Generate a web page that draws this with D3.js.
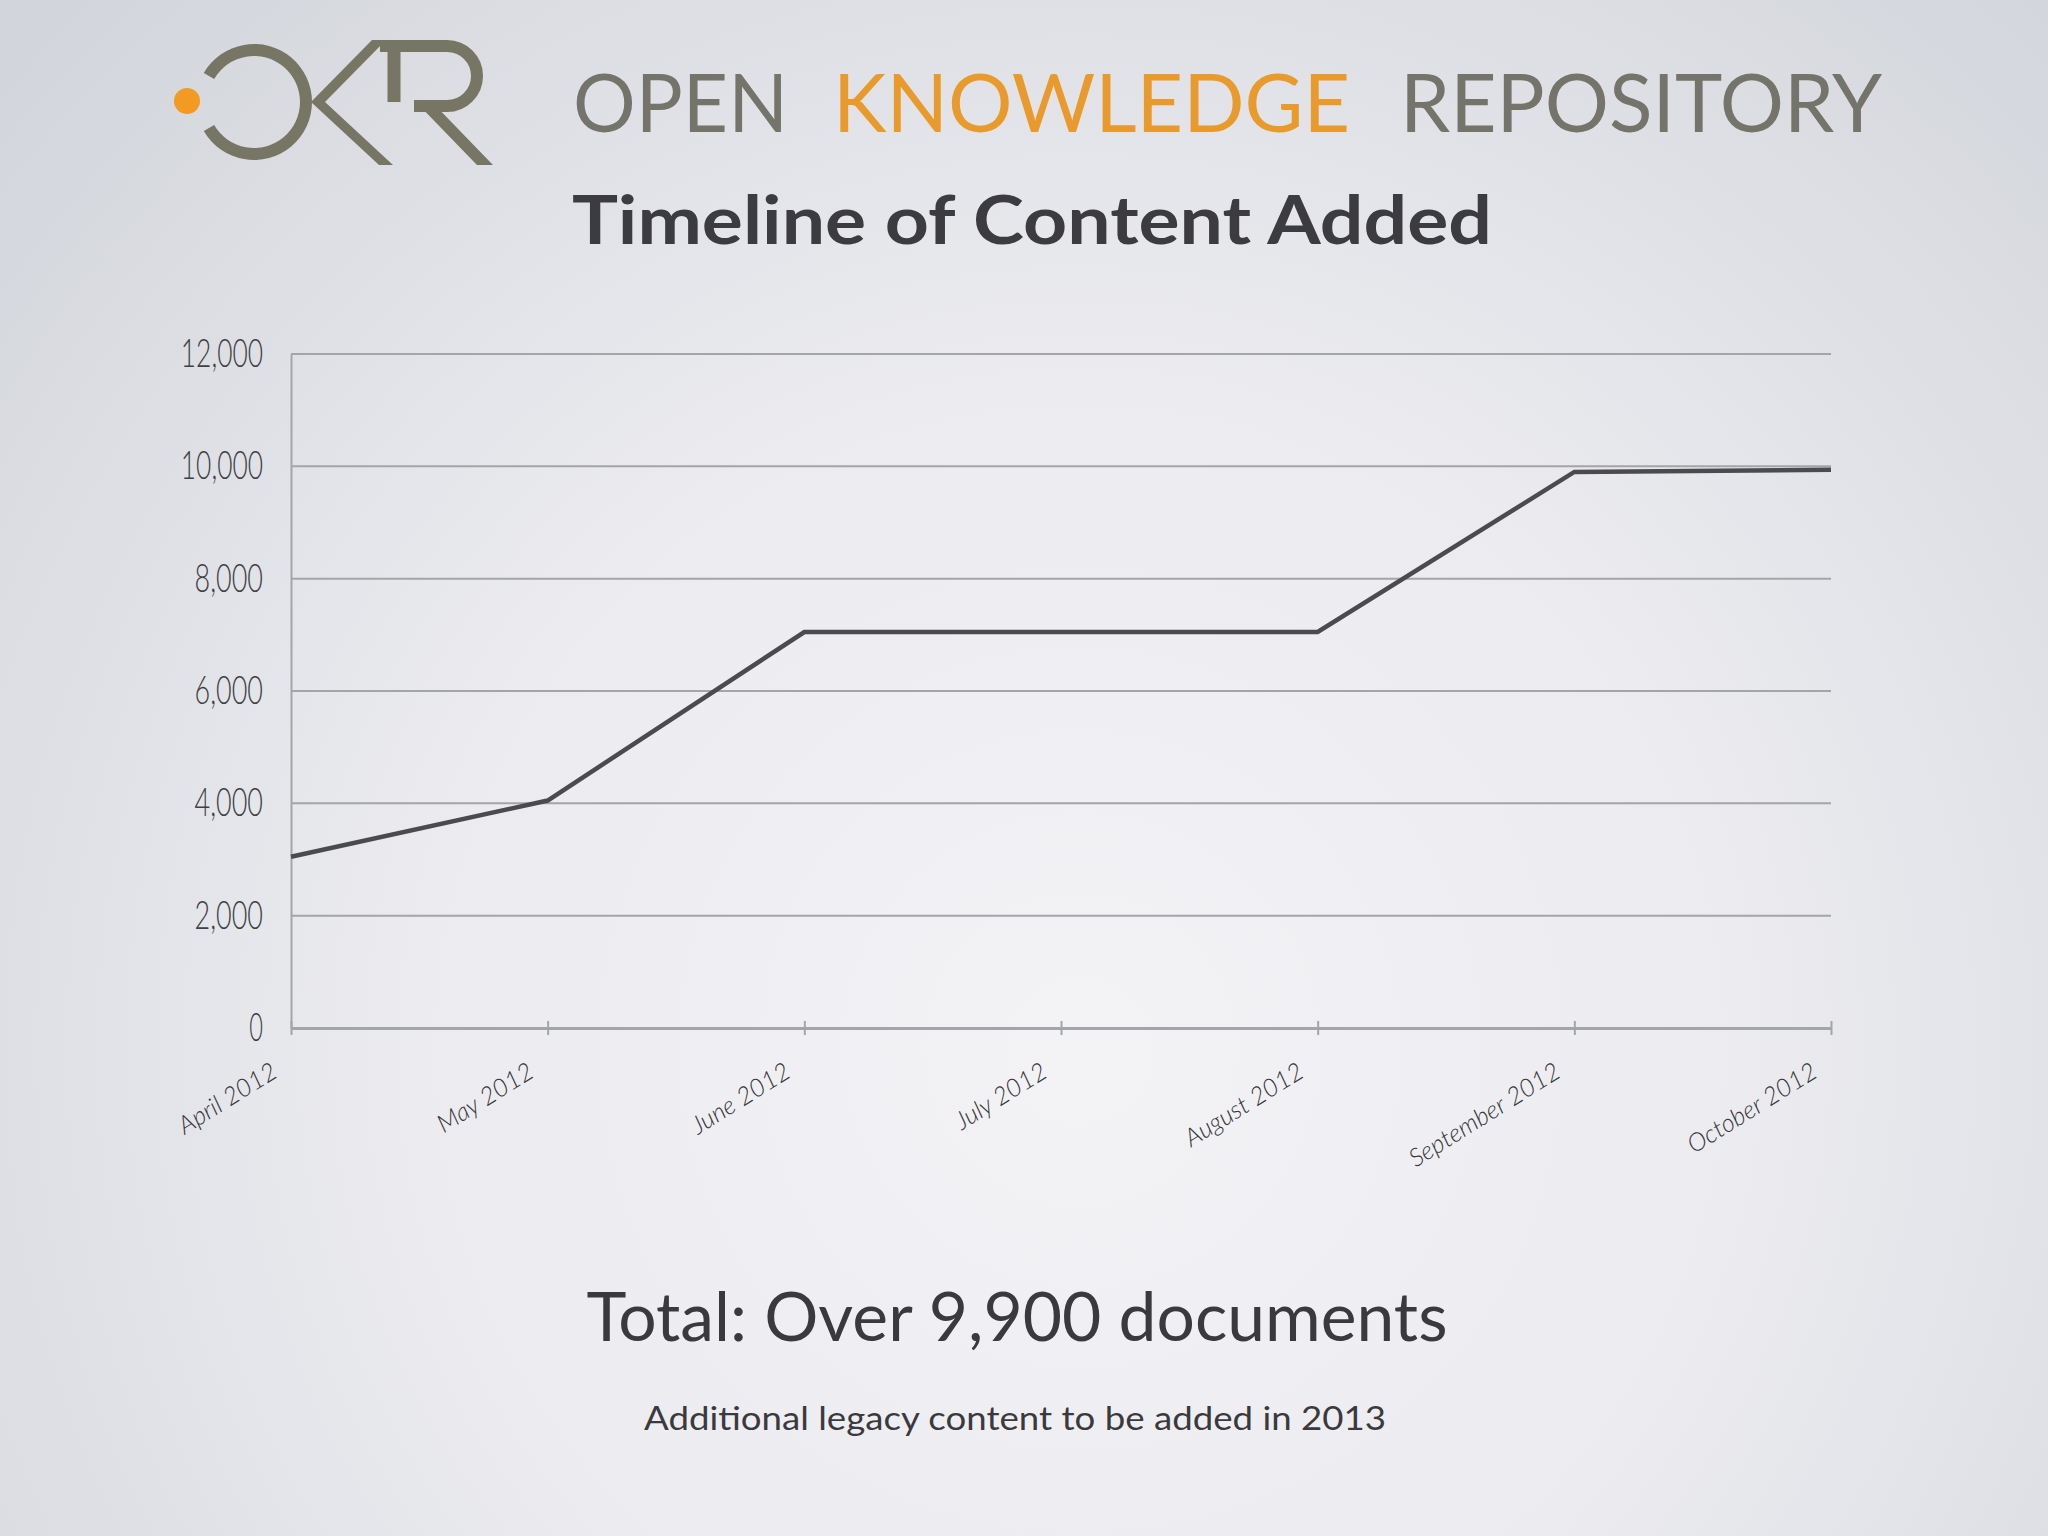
<!DOCTYPE html>
<html>
<head>
<meta charset="utf-8">
<script src="https://cdn.jsdelivr.net/npm/d3@7"></script>
<style>
html,body{margin:0;padding:0;background:#e6e7eb;}
svg{display:block;}
</style>
</head>
<body>
<script>
// ---- data ----
const months = ["April 2012","May 2012","June 2012","July 2012","August 2012","September 2012","October 2012"];
const documents = [3050, 4050, 7050, 7050, 7050, 9900, 9940];
const yTicks = [0, 2000, 4000, 6000, 8000, 10000, 12000];
const headerWords = ["OPEN", "KNOWLEDGE", "REPOSITORY"];
const title = "Timeline of Content Added";
const totalText = "Total: Over 9,900 documents";
const noteText = "Additional legacy content to be added in 2013";

const W = 2048, H = 1536;
const svg = d3.select("body").append("svg").attr("width", W).attr("height", H);

// background
const defs = svg.append("defs");
const rg = defs.append("radialGradient").attr("id","bg").attr("gradientUnits","userSpaceOnUse")
  .attr("cx",1080).attr("cy",1050).attr("r",1450);
rg.append("stop").attr("offset","0").attr("stop-color","#f3f3f6");
rg.append("stop").attr("offset","0.45").attr("stop-color","#ececf0");
rg.append("stop").attr("offset","1").attr("stop-color","#d2d5db");
svg.append("rect").attr("width",W).attr("height",H).attr("fill","url(#bg)");

// ---- logo ----
const logoCol = "#777665";
const logo = svg.append("g");
logo.append("circle").attr("cx",187).attr("cy",101).attr("r",13).attr("fill","#f29a22");
logo.append("path").attr("d", d3.arc().innerRadius(46).outerRadius(58)
    .startAngle(-Math.PI/3).endAngle(4*Math.PI/3)())
  .attr("transform","translate(254,102)").attr("fill",logoCol);
// K diagonals
logo.append("path").attr("d","M311,102 L372,40 L386,40 L325,102 Z").attr("fill",logoCol);
logo.append("path").attr("d","M311,102 L325,102 L393,165 L379,165 Z").attr("fill",logoCol);
// R
logo.append("path").attr("d","M394,40 V102").attr("stroke",logoCol).attr("stroke-width",13).attr("fill","none");
logo.append("path").attr("d","M380,46 H447 A30,30 0 0 1 447,106 H414")
  .attr("stroke",logoCol).attr("stroke-width",12).attr("fill","none");
logo.append("path").attr("d","M414,100 L430,100 L493,165 L477,165 Z").attr("fill",logoCol);

// header words
const hdr = [
  {t: headerWords[0], x: 573, w: 215, c: "#74746a"},
  {t: headerWords[1], x: 833, w: 517, c: "#e89a2c"},
  {t: headerWords[2], x: 1400, w: 482, c: "#74746a"}
];
svg.selectAll("text.hdr").data(hdr).join("text").attr("class","hdr")
  .attr("x", d => d.x).attr("y", 132)
  .attr("textLength", d => d.w).attr("lengthAdjust","spacingAndGlyphs")
  .attr("font-family","Lato").attr("font-weight",400).attr("font-size",82)
  .attr("fill", d => d.c).text(d => d.t);

// title
svg.append("text").attr("x",1032).attr("y",244).attr("text-anchor","middle")
  .attr("font-family","Lato").attr("font-weight",700).attr("font-size",66)
  .attr("textLength",920).attr("lengthAdjust","spacingAndGlyphs")
  .attr("fill","#3c3c40").text(title);

// ---- chart ----
const x = d3.scalePoint().domain(months).range([291, 1831]);
const y = d3.scaleLinear().domain([0, 12000]).range([1028, 354]);
const gridCol = "#a4a5a8";

// gridlines
svg.append("g").selectAll("line").data(yTicks.filter(v => v > 0)).join("line")
  .attr("x1", 291).attr("x2", 1831).attr("y1", d => y(d)).attr("y2", d => y(d))
  .attr("stroke", gridCol).attr("stroke-width", 2);

// y axis
const yAxis = svg.append("g").attr("transform","translate(291,0)")
  .call(d3.axisLeft(y).tickValues(yTicks).tickSize(0).tickPadding(28).tickFormat(d3.format(",")));
yAxis.select(".domain").attr("stroke", gridCol).attr("stroke-width", 2);
yAxis.selectAll("text")
  .attr("font-family","Lato").attr("font-weight",300).attr("font-size",39)
  .attr("fill","#3f3f44")
  .attr("textLength", function(){ return this.textContent.length * 13.7; })
  .attr("lengthAdjust","spacingAndGlyphs");

// x axis
const xAxis = svg.append("g").attr("transform","translate(0,1028)")
  .call(d3.axisBottom(x).tickSizeInner(7).tickSizeOuter(0).tickFormat(""));
xAxis.select(".domain").attr("stroke", gridCol).attr("stroke-width", 3);
xAxis.selectAll(".tick line").attr("y1",-7).attr("y2",7).attr("stroke",gridCol).attr("stroke-width",2);
xAxis.selectAll(".tick text").remove();

svg.append("g").selectAll("text").data(months).join("text")
  .attr("transform", d => `translate(${x(d) - 12},1076) rotate(-32)`)
  .attr("text-anchor","end")
  .attr("font-family","Lato").attr("font-weight",300).attr("font-style","italic").attr("font-size",25)
  .attr("fill","#36363b").text(d => d);

// line
const line = d3.line().x((d,i) => x(months[i])).y(d => y(d));
svg.append("path").datum(documents).attr("d", line)
  .attr("fill","none").attr("stroke","#4a4a4f").attr("stroke-width",4.5)
  .attr("stroke-linejoin","miter");

// bottom texts
svg.append("text").attr("x",1017).attr("y",1341).attr("text-anchor","middle")
  .attr("font-family","Lato").attr("font-weight",400).attr("font-size",68)
  .attr("textLength",861).attr("lengthAdjust","spacingAndGlyphs")
  .attr("fill","#3a3a3e").text(totalText);
svg.append("text").attr("x",1015).attr("y",1430).attr("text-anchor","middle")
  .attr("font-family","Lato").attr("font-weight",400).attr("font-size",33)
  .attr("textLength",742).attr("lengthAdjust","spacingAndGlyphs")
  .attr("fill","#3a3a3e").text(noteText);
</script>
</body>
</html>
